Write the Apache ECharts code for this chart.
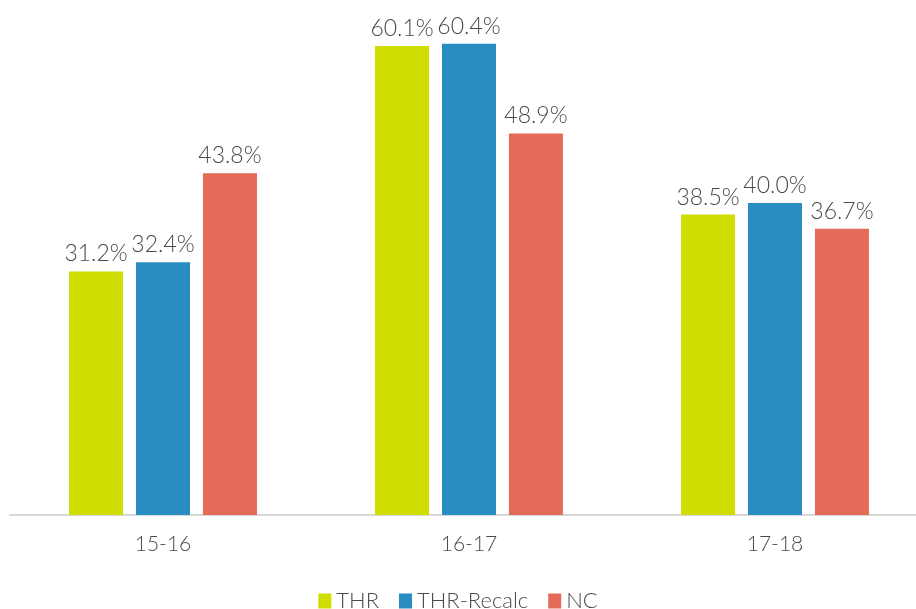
<!DOCTYPE html>
<html>
<head>
<meta charset="utf-8">
<script src="https://cdn.jsdelivr.net/npm/echarts@6/dist/echarts.min.js"></script>
<style>
  html, body { margin: 0; padding: 0; background: #ffffff; }
  #chart { width: 916px; height: 609px; }
</style>
</head>
<body>
<div id="chart"></div>
<script>
// School years on the category axis
const categories = ['15-16', '16-17', '17-18'];
// Rates per series, in percent
const thrValues = [31.2, 60.1, 38.5];
const thrRecalcValues = [32.4, 60.4, 40.0];
const ncValues = [43.8, 48.9, 36.7];
const seriesNames = ['THR', 'THR-Recalc', 'NC'];
const seriesColors = ['#cfdd00', '#2a8dc1', '#e46b57'];

const textColor = '#4a4a4a';
const fontFamily = 'Lato, "Open Sans", sans-serif';

const chart = echarts.init(document.getElementById('chart'));

function barSeries(name, data, color) {
  return {
    name: name,
    type: 'bar',
    data: data,
    barWidth: 54,
    barGap: '24%',
    itemStyle: { color: color },
    label: {
      show: true,
      position: 'top',
      distance: 6,
      color: textColor,
      fontFamily: fontFamily,
      fontWeight: 300,
      fontSize: 23,
      formatter: p => p.value.toFixed(1) + '%'
    }
  };
}

chart.setOption({
  animation: false,
  backgroundColor: '#ffffff',
  grid: { left: 10, width: 918, top: 0, height: 515, outerBoundsMode: 'none', containLabel: false },
  xAxis: {
    type: 'category',
    data: categories,
    axisLine: { lineStyle: { color: '#d9d9d9', width: 2 } },
    axisTick: { show: false },
    axisLabel: { color: textColor, fontFamily: fontFamily, fontWeight: 300, fontSize: 21, margin: 19 }
  },
  yAxis: {
    type: 'value',
    min: 0,
    max: 66,
    show: false,
    splitLine: { show: false }
  },
  legend: {
    data: seriesNames,
    left: 'center',
    top: 585,
    itemWidth: 13,
    itemHeight: 15,
    itemGap: 20,
    icon: 'rect',
    textStyle: { color: textColor, fontFamily: fontFamily, fontWeight: 300, fontSize: 22 }
  },
  series: [
    barSeries(seriesNames[0], thrValues, seriesColors[0]),
    barSeries(seriesNames[1], thrRecalcValues, seriesColors[1]),
    barSeries(seriesNames[2], ncValues, seriesColors[2])
  ]
});
</script>
</body>
</html>
